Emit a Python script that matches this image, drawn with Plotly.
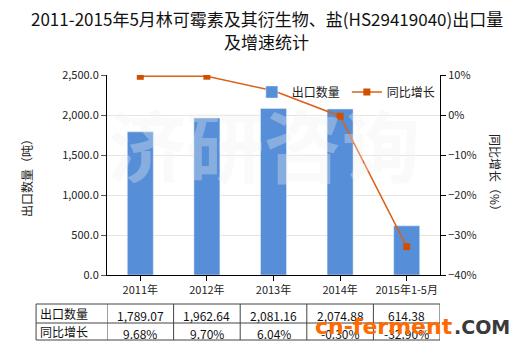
import plotly.graph_objects as go

categories = ["2011年", "2012年", "2013年", "2014年", "2015年1-5月"]
export_qty = [1789.07, 1962.64, 2081.16, 2074.88, 614.38]
growth_pct = [9.68, 9.70, 6.04, -0.30, -32.90]
qty_labels = ["1,789.07", "1,962.64", "2,081.16", "2,074.88", "614.38"]
growth_labels = ["9.68%", "9.70%", "6.04%", "-0.30%", "-32.90%"]
row_names = ["出口数量", "同比增长"]
title_lines = ["2011-2015年5月林可霉素及其衍生物、盐(HS29419040)出口量", "及增速统计"]

FONT = "Noto Sans CJK SC, Liberation Sans, sans-serif"
BLUE = "#568fd8"
ORANGE = "#d9611a"

xi = list(range(len(categories)))

fig = go.Figure()
fig.add_trace(go.Bar(x=xi, y=export_qty, name="出口数量", marker_color=BLUE,
                     width=0.39, yaxis="y"))
fig.add_trace(go.Scatter(x=xi, y=growth_pct, name="同比增长", yaxis="y2",
                         mode="lines+markers",
                         line=dict(color=ORANGE, width=1.5),
                         marker=dict(symbol="square", size=7, color="#d05000")))

fig.update_layout(
    width=520, height=350,
    margin=dict(l=107, r=80, t=75, b=75),
    paper_bgcolor="white", plot_bgcolor="white",
    font=dict(family=FONT, size=11, color="#333"),
    showlegend=True,
    legend=dict(orientation="h", x=0.435, y=0.915, xanchor="left", yanchor="middle",
                bgcolor="rgba(0,0,0,0)", font=dict(size=12, color="#222"),
                itemwidth=30, entrywidth=50, entrywidthmode="pixels"),
    xaxis=dict(tickmode="array", tickvals=xi, ticktext=categories,
               range=[-0.5, len(categories) - 0.5],
               showline=True, linecolor="black", linewidth=1,
               ticks="outside", ticklen=5, tickcolor="black",
               showgrid=False, tickfont=dict(size=11, color="#222")),
    yaxis=dict(range=[0, 2500], dtick=500, tickformat=",.1f",
               showline=True, linecolor="black", linewidth=1,
               ticks="outside", ticklen=5, tickcolor="#555",
               showgrid=True, gridcolor="#e8e6dc", zeroline=False,
               tickfont=dict(size=11, color="#222")),
    yaxis2=dict(range=[-40, 10], dtick=10, ticksuffix="%", overlaying="y", side="right",
                showline=True, linecolor="black", linewidth=1,
                ticks="outside", ticklen=5, tickcolor="black",
                showgrid=False, zeroline=False,
                tickfont=dict(size=11, color="#222")),
)

# title (two centred lines)
for line, yy in zip(title_lines, [1.285, 1.165]):
    fig.add_annotation(text=line, xref="paper", yref="paper", x=0.48, y=yy,
                       xanchor="center", yanchor="middle", showarrow=False,
                       font=dict(size=17, color="#111", family=FONT))

# axis titles
fig.add_annotation(text="出口数量（吨）", textangle=-90, xref="paper", yref="paper",
                   x=-0.275, y=0.5, showarrow=False, font=dict(size=12, color="#222"))
fig.add_annotation(text="同比增长（%）", textangle=90, xref="paper", yref="paper",
                   x=1.2, y=0.5, showarrow=False, font=dict(size=12, color="#222"))

# watermark
fig.add_annotation(text="<b>济研咨询</b>", xref="paper", yref="paper", x=0.47, y=0.66,
                   yanchor="middle", showarrow=False,
                   font=dict(size=78, color="rgba(240,240,240,0.32)"))

# data table below chart
y_top, y_mid, y_bot = -0.145, -0.24, -0.325
x_left = -0.213
line_style = dict(color="#444", width=1)
for yy in (y_top, y_mid, y_bot):
    fig.add_shape(type="line", xref="paper", yref="paper", x0=x_left, x1=1,
                  y0=yy, y1=yy, line=line_style)
fig.add_shape(type="line", xref="paper", yref="paper", x0=x_left, x1=x_left,
              y0=y_top, y1=y_bot, line=line_style)
for k in range(len(categories) + 1):
    fig.add_shape(type="line", xref="x", yref="paper", x0=k - 0.5, x1=k - 0.5,
                  y0=y_top, y1=y_bot, line=line_style)

for name, yy in zip(row_names, [(y_top + y_mid) / 2, (y_mid + y_bot) / 2]):
    fig.add_annotation(text=name, xref="paper", yref="paper", x=x_left + 0.005, y=yy,
                       xanchor="left", yanchor="middle", showarrow=False,
                       font=dict(size=12, color="#111"))
for i in xi:
    fig.add_annotation(text=qty_labels[i], xref="x", yref="paper", x=i,
                       y=(y_top + y_mid) / 2 - 0.01, yanchor="middle", showarrow=False,
                       font=dict(size=12, color="#111"))
    fig.add_annotation(text=growth_labels[i], xref="x", yref="paper", x=i,
                       y=(y_mid + y_bot) / 2 - 0.01, yanchor="middle", showarrow=False,
                       font=dict(size=12, color="#111"))

# site logo
fig.add_annotation(text="<b>cn-ferment</b>", xref="paper", yref="paper", x=1.045, y=-0.257,
                   xanchor="right", yanchor="middle", showarrow=False,
                   font=dict(size=22, color="#ff6a00", family="DejaVu Sans"))
fig.add_annotation(text="<b>.COM</b>", xref="paper", yref="paper", x=1.037, y=-0.262,
                   xanchor="left", yanchor="middle", showarrow=False,
                   font=dict(size=19, color="#3a3a3a", family="DejaVu Sans"))

fig.write_html("out.html")
